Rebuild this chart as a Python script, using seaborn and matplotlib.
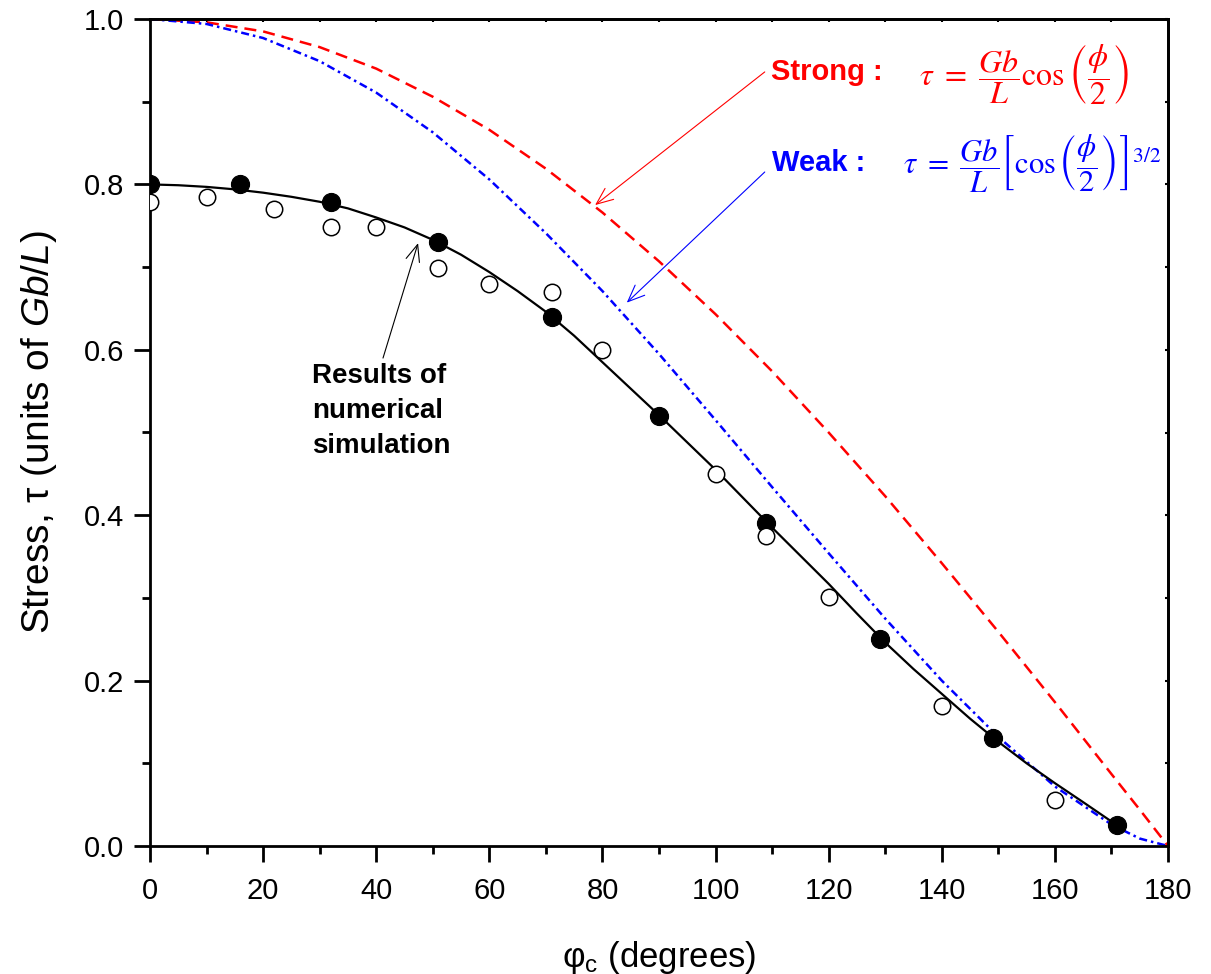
import numpy as np
import pandas as pd
import matplotlib
matplotlib.use('Agg')
import matplotlib.pyplot as plt
from matplotlib.ticker import MultipleLocator, FormatStrFormatter
import seaborn as sns

# numerical simulation results (phi_c in degrees, stress in units of Gb/L)
phi_filled = [0, 16, 32, 51, 71, 90, 109, 129, 149, 171]
tau_filled = [0.800, 0.800, 0.779, 0.730, 0.640, 0.520, 0.391, 0.250, 0.130, 0.025]
phi_open = [0, 10, 22, 32, 40, 51, 60, 71, 80, 100, 109, 120, 140, 160]
tau_open = [0.779, 0.785, 0.770, 0.749, 0.749, 0.699, 0.680, 0.670, 0.600,
            0.450, 0.375, 0.301, 0.169, 0.056]

# smooth curve through the simulation points
phi_fit = [0, 5, 10, 15, 20, 25, 30, 35, 40, 45, 50, 55, 60, 65, 70, 75, 80, 85, 90,
           95, 100, 105, 110, 115, 120, 125, 130, 135, 140, 145, 150, 155, 160, 165, 171]
tau_fit = [0.800, 0.799, 0.797, 0.794, 0.790, 0.785, 0.779, 0.771, 0.760, 0.748,
           0.733, 0.715, 0.694, 0.671, 0.646, 0.617, 0.585, 0.553, 0.521,
           0.488, 0.455, 0.420, 0.385, 0.351, 0.317, 0.281, 0.246, 0.214, 0.184,
           0.154, 0.126, 0.100, 0.076, 0.053, 0.025]

# strong / weak obstacle curves
phi_theory = [0, 10, 20, 30, 40, 50, 60, 70, 80, 90, 100, 110, 120, 130, 140, 150,
              160, 170, 175, 180]
tau_strong = [1.000, 0.996, 0.985, 0.966, 0.940, 0.906, 0.866, 0.819, 0.766, 0.707,
              0.643, 0.574, 0.500, 0.423, 0.342, 0.259, 0.174, 0.087, 0.044, 0.000]
tau_weak = [1.000, 0.994, 0.977, 0.949, 0.911, 0.863, 0.806, 0.741, 0.671, 0.595,
            0.515, 0.434, 0.354, 0.275, 0.200, 0.132, 0.072, 0.026, 0.009, 0.000]

sns.set_style('ticks')
plt.rcParams['font.family'] = ['Liberation Sans', 'DejaVu Sans']
plt.rcParams['mathtext.fontset'] = 'custom'
plt.rcParams['mathtext.rm'] = 'Liberation Sans'
plt.rcParams['mathtext.it'] = 'Liberation Sans:italic'
plt.rcParams['mathtext.bf'] = 'Liberation Sans:bold'
for key in ['text.color', 'axes.labelcolor', 'xtick.color', 'ytick.color', 'axes.edgecolor']:
    plt.rcParams[key] = 'black'

fig = plt.figure(figsize=(12.11, 9.74), dpi=100)
ax = fig.add_axes([150 / 1211, 128 / 974, 1018 / 1211, 827 / 974])

df_theory = pd.DataFrame({'phi': phi_theory, 'strong': tau_strong, 'weak': tau_weak})
df_fit = pd.DataFrame({'phi': phi_fit, 'tau': tau_fit})

sns.lineplot(data=df_theory, x='phi', y='strong', color='#ff0000', linewidth=1.8,
             linestyle=(0, (4.8, 2.8)), ax=ax, zorder=2)
sns.lineplot(data=df_theory, x='phi', y='weak', color='#0000ff', linewidth=1.8,
             linestyle=(0, (3.2, 1.6, 1.0, 1.6)), ax=ax, zorder=2)
sns.lineplot(data=df_fit, x='phi', y='tau', color='black', linewidth=1.6, ax=ax, zorder=3)

sns.scatterplot(x=phi_filled, y=tau_filled, s=170, color='black', edgecolor='black',
                linewidth=0.8, ax=ax, zorder=4)
sns.scatterplot(x=phi_open, y=tau_open, s=140, facecolor='white', edgecolor='black',
                linewidth=1.1, ax=ax, zorder=5)

ax.set_xlim(0, 180)
ax.set_ylim(0, 1.0)
ax.xaxis.set_major_locator(MultipleLocator(20))
ax.xaxis.set_minor_locator(MultipleLocator(10))
ax.yaxis.set_major_locator(MultipleLocator(0.2))
ax.yaxis.set_minor_locator(MultipleLocator(0.1))
ax.yaxis.set_major_formatter(FormatStrFormatter('%.1f'))

for side in ['left', 'right', 'top', 'bottom']:
    ax.spines[side].set_linewidth(2.0)
    ax.spines[side].set_visible(True)

ax.tick_params(which='major', direction='out', length=11.5, width=2.0, labelsize=21,
               top=False, right=False, colors='black')
ax.tick_params(which='minor', direction='out', length=6, width=2.0, top=False, right=False)
ax.tick_params(axis='x', which='major', pad=11)
ax.tick_params(axis='y', which='major', pad=7)

# small inward ticks on the top and right frame
secx = ax.secondary_xaxis('top')
secx.set_xticks(np.arange(0, 181, 10))
secx.tick_params(direction='in', length=2.5, width=1.5, labeltop=False)
secx.spines['top'].set_linewidth(2.0)
secy = ax.secondary_yaxis('right')
secy.set_yticks(np.arange(0, 1.01, 0.1))
secy.tick_params(direction='in', length=2.5, width=1.5, labelright=False)
secy.spines['right'].set_linewidth(2.0)

ax.set_xlabel(r'φ$_{\mathrm{c}}$ (degrees)', fontsize=25, labelpad=24)
ax.set_ylabel('Stress, τ (units of $Gb/L$)', fontsize=28, labelpad=18)

# annotations
arrow = '->,head_length=0.6,head_width=0.25'
ax.annotate('', xy=(78.7, 0.775), xytext=(108.7, 0.936),
            arrowprops=dict(arrowstyle=arrow, color='#ff0000', lw=0.8,
                            shrinkA=0, shrinkB=0, mutation_scale=20))
ax.annotate('', xy=(84.3, 0.657), xytext=(108.7, 0.815),
            arrowprops=dict(arrowstyle=arrow, color='#0000ff', lw=0.8,
                            shrinkA=0, shrinkB=0, mutation_scale=20))
ax.annotate('', xy=(47.4, 0.729), xytext=(41.2, 0.590),
            arrowprops=dict(arrowstyle=arrow, color='black', lw=0.8,
                            shrinkA=0, shrinkB=0, mutation_scale=20))

ax.text(109.8, 0.936, 'Strong :', color='#ff0000', fontsize=21, fontweight='bold',
        va='center', ha='left')
ax.text(136.0, 0.933, r'$\tau\ =\ \dfrac{Gb}{L}\cos\left(\dfrac{\phi}{2}\right)$',
        color='#ff0000', fontsize=23, math_fontfamily='stix', va='center', ha='left')
ax.text(110.0, 0.826, 'Weak :', color='#0000ff', fontsize=21, fontweight='bold',
        va='center', ha='left')
ax.text(133.1, 0.825,
        r'$\tau\ =\ \dfrac{Gb}{L}\left[\cos\left(\dfrac{\phi}{2}\right)\right]^{3/2}$',
        color='#0000ff', fontsize=22, math_fontfamily='stix', va='center', ha='left')

ax.text(28.6, 0.584, 'Results of\nnumerical\nsimulation', fontsize=20, fontweight='bold',
        va='top', ha='left', linespacing=1.45)

fig.savefig('out.png', dpi=100)
